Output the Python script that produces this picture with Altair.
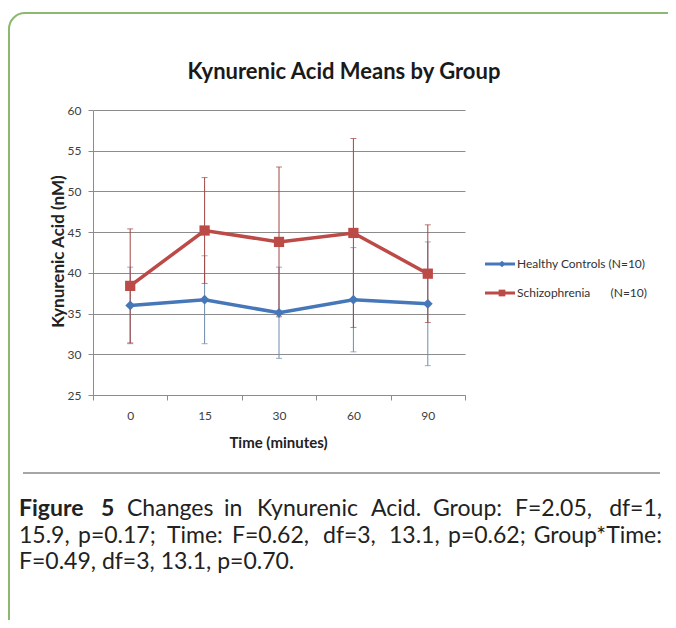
import altair as alt
import pandas as pd

# ---------------- data ----------------
times = ["0", "15", "30", "60", "90"]
groups = ["Healthy Controls", "Schizophrenia"]
group_n = ["(N=10)", "(N=10)"]
healthy_mean = [36.0, 36.7, 35.1, 36.7, 36.2]
healthy_sd = [4.7, 5.4, 5.6, 6.4, 7.6]
schizo_mean = [38.4, 45.2, 43.8, 44.9, 39.9]
schizo_sd = [7.0, 6.5, 9.2, 11.6, 6.0]
y_ticks = [25, 30, 35, 40, 45, 50, 55, 60]

title_text = "Kynurenic Acid Means by Group"
x_title = "Time (minutes)"
y_title = "Kynurenic Acid (nM)"
caption_line1 = ["Figure", "5", "Changes", "in", "Kynurenic", "Acid.", "Group:", "F=2.05,", "df=1,"]
caption_line2 = ["15.9,", "p=0.17;", "Time:", "F=0.62,", "df=3,", "13.1,", "p=0.62;", "Group*Time:"]
caption_line3 = "F=0.49, df=3, 13.1, p=0.70."

rows = []
for g, means, sds in [(groups[0], healthy_mean, healthy_sd), (groups[1], schizo_mean, schizo_sd)]:
    for t, m, s in zip(times, means, sds):
        rows.append({"time": t, "group": g, "mean": m, "lo": m - s, "hi": m + s})
df = pd.DataFrame(rows)

# ---------------- styles ----------------
FONT = "Lato"
W, H = 372, 285
line_col = {groups[0]: "#4677B8", groups[1]: "#BC4A47"}
err_col = {groups[0]: "#6F8AAE", groups[1]: "#A04543"}
shape = {groups[0]: "diamond", groups[1]: "square"}
msize = {groups[0]: 95, groups[1]: 105}

x_enc = alt.X(
    "time:N",
    sort=times,
    scale=alt.Scale(type="band", domain=times, paddingInner=0, paddingOuter=0),
    axis=alt.Axis(
        title=x_title, tickBand="extent", labelAngle=0, grid=False,
        domainColor="#8c8c8c", tickColor="#8c8c8c", tickSize=5, labelPadding=10,
        labelFont=FONT, labelFontSize=12, labelColor="#404040",
        titleFont=FONT, titleFontSize=15, titleFontWeight="bold", titleColor="#222222",
        titleX=185, titleY=52, titleBaseline="alphabetic", titleAlign="center",
    ),
)
y_enc = alt.Y(
    "mean:Q",
    scale=alt.Scale(domain=[25, 60], nice=False, zero=False),
    axis=alt.Axis(
        title=y_title, values=y_ticks, grid=True, gridColor="#8c8c8c", gridWidth=1,
        domainColor="#8c8c8c", tickColor="#8c8c8c", tickSize=5, labelPadding=7,
        labelFont=FONT, labelFontSize=12, labelColor="#404040",
        titleFont=FONT, titleFontSize=17, titleFontWeight="bold", titleColor="#222222",
        titleX=-30, titleY=141, titleAngle=270, titleAlign="center", titleBaseline="alphabetic",
    ),
)

base = alt.Chart(df)
layers = []

# border and separator (decoration)
one = pd.DataFrame({"k": [0]})
layers.append(
    alt.Chart(one).mark_rect(fillOpacity=0, stroke="#8DB870", strokeWidth=2, cornerRadius=16)
    .encode(x=alt.value(-84), x2=alt.value(590), y=alt.value(-97), y2=alt.value(540))
)
layers.append(
    alt.Chart(one).mark_rule(color="#A6A6A6", strokeWidth=2)
    .encode(x=alt.value(-70), x2=alt.value(567), y=alt.value(363))
)

# axes carrier (invisible)
layers.append(base.mark_point(opacity=0).encode(x=x_enc, y=y_enc))

for g in groups:
    sub = base.transform_filter(alt.datum.group == g)
    layers.append(sub.mark_rule(color=err_col[g], strokeWidth=1).encode(x="time:N", y="lo:Q", y2="hi:Q"))
    layers.append(sub.mark_tick(color=err_col[g], size=6, thickness=1).encode(x="time:N", y="lo:Q"))
    layers.append(sub.mark_tick(color=err_col[g], size=6, thickness=1).encode(x="time:N", y="hi:Q"))
for g in groups:
    sub = base.transform_filter(alt.datum.group == g)
    layers.append(sub.mark_line(color=line_col[g], strokeWidth=3.5).encode(x="time:N", y="mean:Q"))
    layers.append(
        sub.mark_point(shape=shape[g], filled=True, opacity=1, color=line_col[g], size=msize[g])
        .encode(x="time:N", y="mean:Q")
    )

# legend
for i, g in enumerate(groups):
    yy = 154 + 29 * i
    lab = g + " " + group_n[i] if i == 0 else g
    leg = alt.Chart(pd.DataFrame({"label": [lab], "n": [group_n[i]]}))
    layers.append(leg.mark_rule(color=line_col[g], strokeWidth=3).encode(x=alt.value(392), x2=alt.value(422), y=alt.value(yy)))
    layers.append(leg.mark_point(shape=shape[g], filled=True, opacity=1, color=line_col[g], size=45)
                  .encode(x=alt.value(409), y=alt.value(yy)))
    layers.append(leg.mark_text(align="left", baseline="middle", font=FONT, fontSize=12, color="#333333")
                  .encode(x=alt.value(424), y=alt.value(yy), text="label:N"))
    if i == 1:
        layers.append(leg.mark_text(align="right", baseline="middle", font=FONT, fontSize=12, color="#333333")
                      .encode(x=alt.value(554), y=alt.value(yy), text="n:N"))

# chart title
layers.append(
    alt.Chart(pd.DataFrame({"t": [title_text]})).mark_text(
        align="center", baseline="alphabetic", font=FONT, fontSize=22, fontWeight="bold", color="#1a1a1a"
    ).encode(x=alt.value(251), y=alt.value(-31), text="t:N")
)

# caption (justified lines placed word by word)
CAP = 23
word_x1 = [-74, 8, 34, 131, 164, 278, 340, 422, 569]
word_x2 = [-74, -15, 74, 139, 230, 296, 355, 569]
for words, xs, yy, nbold in [(caption_line1, word_x1, 406, 2), (caption_line2, word_x2, 433, 0)]:
    for i, (w, xx) in enumerate(zip(words, xs)):
        layers.append(
            alt.Chart(pd.DataFrame({"t": [w]})).mark_text(
                align="right" if i == len(words) - 1 else "left", baseline="alphabetic",
                font=FONT, fontSize=CAP, fontWeight="bold" if i < nbold else "normal", color="#222222",
            ).encode(x=alt.value(xx), y=alt.value(yy), text="t:N")
        )
layers.append(
    alt.Chart(pd.DataFrame({"t": [caption_line3]})).mark_text(
        align="left", baseline="alphabetic", font=FONT, fontSize=CAP, color="#222222"
    ).encode(x=alt.value(-74), y=alt.value(459), text="t:N")
)

chart = (
    alt.layer(*layers)
    .properties(
        width=W, height=H,
        autosize=alt.AutoSizeParams(type="none"),
        padding={"left": 85, "top": 102, "right": 203, "bottom": 225},
        background="white",
    )
    .configure_view(stroke=None)
)

chart.save("out.html", embed_options={"renderer": "svg", "actions": False})
